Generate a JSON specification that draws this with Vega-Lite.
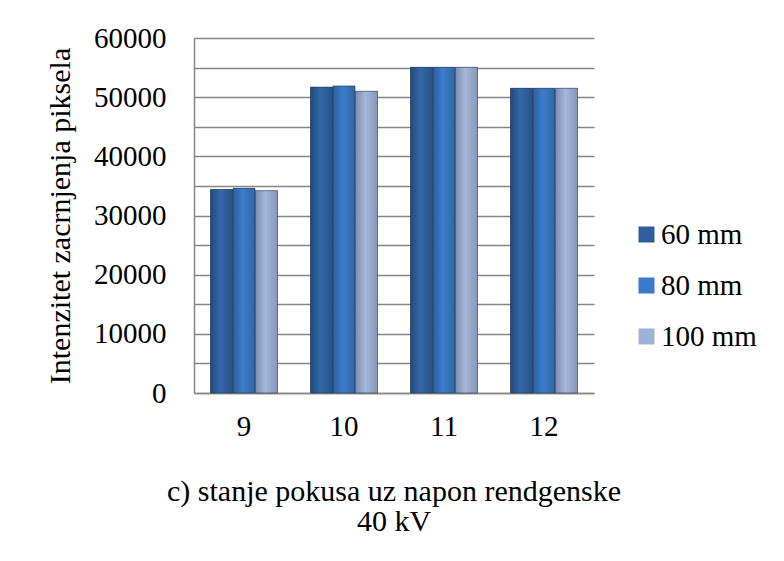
{
  "$schema": "https://vega.github.io/schema/vega-lite/v6.json",
  "width": 400,
  "height": 355,
  "autosize": "none",
  "padding": {"left": 194, "top": 38, "right": 190, "bottom": 168},
  "background": "white",
  "config": {
    "font": "Liberation Serif",
    "view": {"stroke": null}
  },
  "title": {
    "text": ["c) stanje pokusa uz napon rendgenske", "40 kV"],
    "orient": "bottom",
    "anchor": "middle",
    "fontSize": 30,
    "fontWeight": "normal",
    "color": "black",
    "lineHeight": 30,
    "offset": 36
  },
  "data": {
    "values": [
      {"stanje": "9", "udaljenost": "60 mm", "vrijednost": 34400},
      {"stanje": "9", "udaljenost": "80 mm", "vrijednost": 34600},
      {"stanje": "9", "udaljenost": "100 mm", "vrijednost": 34200},
      {"stanje": "10", "udaljenost": "60 mm", "vrijednost": 51700},
      {"stanje": "10", "udaljenost": "80 mm", "vrijednost": 51900},
      {"stanje": "10", "udaljenost": "100 mm", "vrijednost": 51000},
      {"stanje": "11", "udaljenost": "60 mm", "vrijednost": 55050},
      {"stanje": "11", "udaljenost": "80 mm", "vrijednost": 55050},
      {"stanje": "11", "udaljenost": "100 mm", "vrijednost": 55050},
      {"stanje": "12", "udaljenost": "60 mm", "vrijednost": 51500},
      {"stanje": "12", "udaljenost": "80 mm", "vrijednost": 51500},
      {"stanje": "12", "udaljenost": "100 mm", "vrijednost": 51500}
    ]
  },
  "encoding": {
    "x": {
      "field": "stanje",
      "type": "nominal",
      "sort": ["9", "10", "11", "12"],
      "scale": {"domain": ["9", "10", "11", "12"], "paddingInner": 0.33, "paddingOuter": 0.165},
      "axis": {
        "title": null,
        "labelAngle": 0,
        "labelFontSize": 29,
        "labelColor": "black",
        "labelPadding": 19,
        "ticks": false,
        "domainColor": "#868686",
        "domainWidth": 1.5
      }
    },
    "xOffset": {
      "field": "udaljenost",
      "type": "nominal",
      "scale": {"domain": ["60 mm", "80 mm", "100 mm"], "paddingInner": 0.02}
    },
    "y": {
      "field": "vrijednost",
      "type": "quantitative",
      "scale": {"domain": [0, 60000], "nice": false},
      "axis": {
        "title": "Intenzitet zacrnjenja piksela",
        "titleFontSize": 30,
        "titleFontWeight": "normal",
        "titleColor": "black",
        "titlePadding": 18,
        "values": [0, 5000, 10000, 15000, 20000, 25000, 30000, 35000, 40000, 45000, 50000, 55000, 60000],
        "labelExpr": "datum.value % 10000 == 0 ? format(datum.value, 'd') : ''",
        "labelOverlap": false,
        "labelFontSize": 29,
        "labelColor": "black",
        "labelPadding": 28,
        "ticks": false,
        "domainColor": "#868686",
        "domainWidth": 1.5,
        "gridColor": "#868686",
        "gridWidth": 1.3
      }
    }
  },
  "layer": [
    {
      "mark": {"type": "bar"},
      "encoding": {
        "color": {
          "field": "udaljenost",
          "type": "nominal",
          "scale": {"domain": ["60 mm", "80 mm", "100 mm"], "range": ["#2f5e9a", "#3b7acb", "#9fb1d5"]},
          "legend": {
            "title": null,
            "orient": "none",
            "legendX": 438,
            "legendY": 182,
            "symbolType": "square",
            "symbolSize": 256,
            "symbolStrokeWidth": 0,
            "symbolOpacity": 1,
            "labelFontSize": 29,
            "labelColor": "black",
            "labelOffset": 0,
            "labelLimit": 300,
            "rowPadding": 21
          }
        }
      }
    },
    {
      "transform": [{"filter": "datum.udaljenost == '60 mm'"}],
      "mark": {
        "type": "bar",
        "stroke": "#1c3354",
        "strokeWidth": 0.8,
        "strokeOpacity": 0.7,
        "fill": {
          "gradient": "linear", "x1": 0, "x2": 1, "y1": 0, "y2": 0,
          "stops": [
            {"offset": 0, "color": "#23497c"},
            {"offset": 0.45, "color": "#3468a8"},
            {"offset": 1, "color": "#27518a"}
          ]
        }
      }
    },
    {
      "transform": [{"filter": "datum.udaljenost == '80 mm'"}],
      "mark": {
        "type": "bar",
        "stroke": "#1c3354",
        "strokeWidth": 0.8,
        "strokeOpacity": 0.7,
        "fill": {
          "gradient": "linear", "x1": 0, "x2": 1, "y1": 0, "y2": 0,
          "stops": [
            {"offset": 0, "color": "#2c5f9f"},
            {"offset": 0.45, "color": "#3d7cce"},
            {"offset": 1, "color": "#30669f"}
          ]
        }
      }
    },
    {
      "transform": [{"filter": "datum.udaljenost == '100 mm'"}],
      "mark": {
        "type": "bar",
        "stroke": "#1c3354",
        "strokeWidth": 0.8,
        "strokeOpacity": 0.7,
        "fill": {
          "gradient": "linear", "x1": 0, "x2": 1, "y1": 0, "y2": 0,
          "stops": [
            {"offset": 0, "color": "#7d8db0"},
            {"offset": 0.45, "color": "#a6b8da"},
            {"offset": 1, "color": "#8496ba"}
          ]
        }
      }
    }
  ]
}
